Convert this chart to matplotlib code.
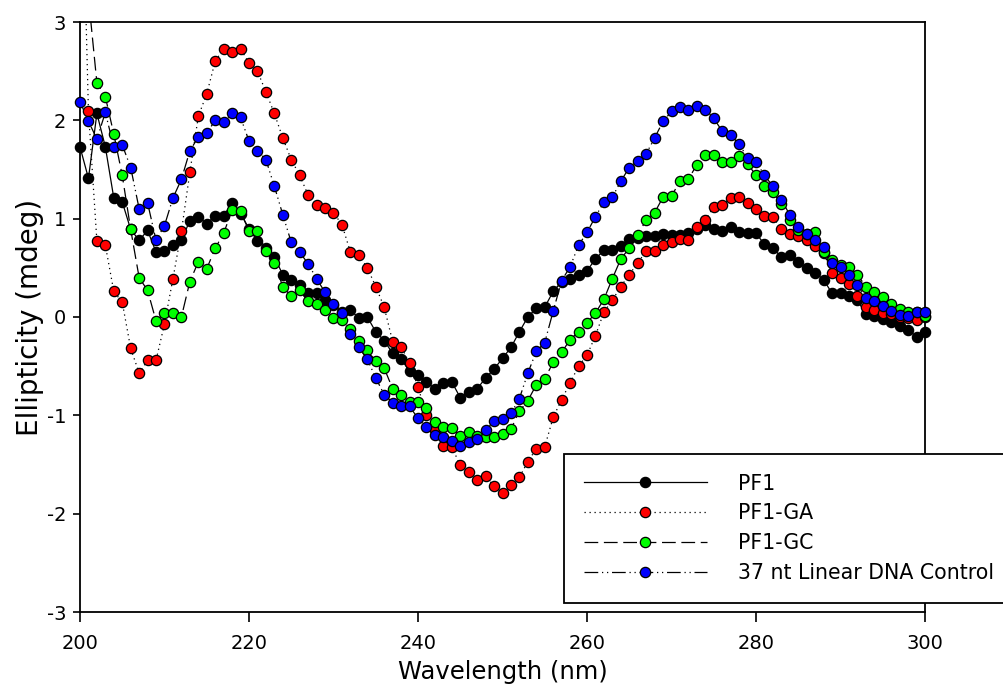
import matplotlib
matplotlib.use("Agg")
import matplotlib.pyplot as plt
from matplotlib.lines import Line2D
import numpy as np

# CD spectra, 1 nm steps from 200 to 300 nm
wavelength = list(range(200, 301))

pf1 = [1.73, 1.41, 2.07, 1.73, 1.21, 1.17, 0.89, 0.78, 0.88, 0.66,
       0.67, 0.73, 0.78, 0.98, 1.02, 0.95, 1.03, 1.03, 1.16, 1.05,
       0.90, 0.77, 0.70, 0.61, 0.43, 0.38, 0.33, 0.24, 0.24, 0.17,
       0.12, 0.05, 0.07, -0.01, 0.00, -0.15, -0.24, -0.37, -0.43, -0.55,
       -0.59, -0.66, -0.73, -0.67, -0.66, -0.82, -0.76, -0.73, -0.62, -0.53,
       -0.42, -0.31, -0.15, 0.00, 0.09, 0.10, 0.26, 0.36, 0.39, 0.43,
       0.47, 0.59, 0.68, 0.68, 0.72, 0.79, 0.80, 0.82, 0.82, 0.84,
       0.83, 0.83, 0.85, 0.90, 0.94, 0.89, 0.87, 0.92, 0.86, 0.85,
       0.85, 0.74, 0.70, 0.61, 0.63, 0.56, 0.50, 0.45, 0.38, 0.24,
       0.24, 0.21, 0.17, 0.03, 0.01, -0.02, -0.05, -0.09, -0.13, -0.20,
       -0.15]

pf1_ga = [5.40, 2.09, 0.77, 0.73, 0.26, 0.15, -0.32, -0.57, -0.44, -0.44,
          -0.07, 0.39, 0.87, 1.47, 2.04, 2.27, 2.60, 2.73, 2.69, 2.73,
          2.58, 2.50, 2.29, 2.07, 1.82, 1.60, 1.44, 1.24, 1.14, 1.11,
          1.06, 0.94, 0.66, 0.63, 0.50, 0.31, 0.10, -0.25, -0.30, -0.47,
          -0.71, -1.00, -1.15, -1.31, -1.32, -1.51, -1.58, -1.66, -1.62, -1.72,
          -1.79, -1.71, -1.63, -1.47, -1.34, -1.32, -1.02, -0.84, -0.67, -0.50,
          -0.39, -0.19, 0.05, 0.17, 0.31, 0.43, 0.55, 0.67, 0.67, 0.73,
          0.76, 0.79, 0.78, 0.92, 0.99, 1.12, 1.14, 1.21, 1.22, 1.16,
          1.10, 1.03, 1.02, 0.89, 0.84, 0.82, 0.78, 0.72, 0.65, 0.45,
          0.40, 0.34, 0.21, 0.10, 0.07, 0.04, 0.03, 0.00, -0.01, -0.03,
          0.00]

pf1_gc = [4.00, 3.25, 2.38, 2.24, 1.86, 1.44, 0.89, 0.40, 0.27, -0.04,
          0.04, 0.04, 0.00, 0.36, 0.56, 0.49, 0.70, 0.85, 1.09, 1.08,
          0.87, 0.87, 0.67, 0.55, 0.31, 0.21, 0.27, 0.16, 0.13, 0.07,
          -0.01, -0.03, -0.12, -0.24, -0.34, -0.45, -0.52, -0.73, -0.79, -0.86,
          -0.86, -0.93, -1.07, -1.12, -1.13, -1.21, -1.17, -1.21, -1.22, -1.22,
          -1.19, -1.14, -0.96, -0.85, -0.69, -0.63, -0.46, -0.36, -0.23, -0.15,
          -0.06, 0.04, 0.18, 0.39, 0.59, 0.70, 0.83, 0.99, 1.06, 1.22,
          1.23, 1.38, 1.40, 1.55, 1.65, 1.65, 1.58, 1.58, 1.64, 1.56,
          1.44, 1.33, 1.27, 1.15, 0.99, 0.88, 0.84, 0.86, 0.66, 0.58,
          0.53, 0.51, 0.43, 0.31, 0.25, 0.20, 0.13, 0.08, 0.05, 0.05,
          0.01]

control = [2.19, 1.99, 1.81, 2.08, 1.73, 1.75, 1.52, 1.10, 1.16, 0.78,
           0.93, 1.21, 1.40, 1.69, 1.83, 1.87, 2.00, 1.98, 2.07, 2.03,
           1.79, 1.69, 1.60, 1.33, 1.04, 0.76, 0.66, 0.54, 0.39, 0.25,
           0.13, 0.04, -0.17, -0.31, -0.43, -0.62, -0.79, -0.87, -0.90, -0.91,
           -1.03, -1.12, -1.20, -1.22, -1.26, -1.31, -1.27, -1.24, -1.15, -1.06,
           -1.04, -0.98, -0.83, -0.57, -0.35, -0.26, 0.06, 0.37, 0.51, 0.73,
           0.86, 1.02, 1.17, 1.22, 1.38, 1.52, 1.59, 1.66, 1.82, 1.99,
           2.09, 2.14, 2.11, 2.15, 2.11, 2.02, 1.89, 1.85, 1.76, 1.62,
           1.58, 1.44, 1.33, 1.19, 1.04, 0.92, 0.84, 0.78, 0.71, 0.55,
           0.51, 0.43, 0.33, 0.19, 0.16, 0.11, 0.06, 0.02, 0.01, 0.05,
           0.05]

labels = ["PF1", "PF1-GA", "PF1-GC", "37 nt Linear DNA Control"]
face_colors = ["#000000", "#ff0000", "#00ff00", "#0000ff"]
line_styles = ["-", (0, (1, 3)), (0, (11, 4.5)), (0, (11, 3, 1, 3, 1, 3))]

y_min, y_max = -3, 3

plt.rcParams.update({
    "font.family": "DejaVu Sans",
    "axes.linewidth": 1.3,
    "axes.unicode_minus": False,
})

fig = plt.figure(figsize=(10.04, 6.95), dpi=100)
ax = fig.add_axes([80 / 1004, 83 / 695, 845 / 1004, 590 / 695])

x = np.array(wavelength)
handles = []
for vals, fc, ls, lab in zip([pf1, pf1_ga, pf1_gc, control], face_colors, line_styles, labels):
    y = np.array(vals)
    # connecting line, clipped at the frame like the original
    ax.plot(x, y, color="black", lw=0.9, ls=ls, zorder=2)
    # markers drawn over the frame edge, but only those inside the y range
    inside = (y >= y_min) & (y <= y_max)
    ax.plot(x[inside], y[inside], ls="none", marker="o", ms=7.4,
            mfc=fc, mec="black", mew=0.9, clip_on=False, zorder=3)
    handles.append(Line2D([], [], color="black", lw=0.9, ls=ls, marker="o",
                          ms=7.4, mfc=fc, mec="black", mew=0.9))

ax.set_xlim(200, 300)
ax.set_ylim(y_min, y_max)
ax.set_xticks([200, 220, 240, 260, 280, 300])
ax.set_yticks([-3, -2, -1, 0, 1, 2, 3])
ax.tick_params(axis="x", direction="out", length=7, width=1.2, pad=9, labelsize=14)
ax.tick_params(axis="y", direction="out", length=5, width=1.2, pad=5, labelsize=14)
ax.set_xlabel("Wavelength (nm)", fontsize=17.5, labelpad=5)
ax.set_ylabel("Ellipticity (mdeg)", fontsize=20, labelpad=2)

leg = fig.legend(handles, labels, loc="upper left",
                 bbox_to_anchor=(564 / 1004, 1 - 454 / 695), borderaxespad=0,
                 fontsize=14.8, frameon=True, fancybox=False, framealpha=1,
                 edgecolor="black", handlelength=6.0, handletextpad=1.5,
                 labelspacing=0.48, borderpad=0.95, numpoints=1)
leg.get_frame().set_linewidth(1.3)

fig.savefig("out.png", dpi=100)
